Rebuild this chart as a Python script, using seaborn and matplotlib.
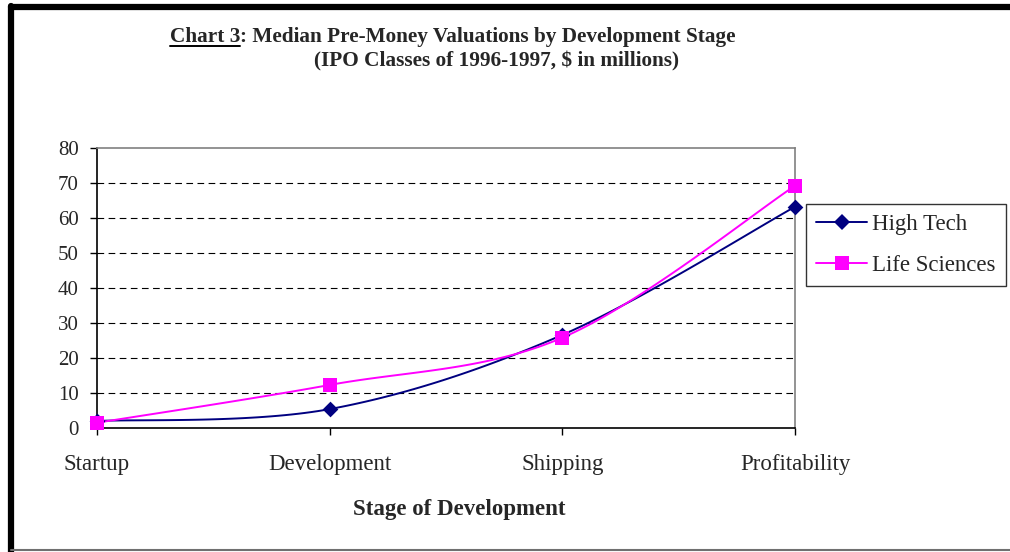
import numpy as np
import pandas as pd
import matplotlib.pyplot as plt
from matplotlib.lines import Line2D
import seaborn as sns

# data
stages = ['Startup', 'Development', 'Shipping', 'Profitability']
high_tech = [2.0, 5.4, 26.6, 63.2]
life_sciences = [1.5, 12.3, 25.8, 69.2]
y_ticks = [0, 10, 20, 30, 40, 50, 60, 70, 80]

sns.set_style('white')
plt.rcParams['font.family'] = ['Liberation Serif', 'DejaVu Serif']

NAVY = '#000080'
MAGENTA = '#FF00FF'


def excel_smooth(xs, ys, n=40):
    # Excel style smoothed line: cubic bezier with control points at 1/6 of neighbours
    pts = np.column_stack([xs, ys]).astype(float)
    out = []
    for i in range(len(pts) - 1):
        p0 = pts[i - 1] if i > 0 else pts[i]
        p1 = pts[i]
        p2 = pts[i + 1]
        p3 = pts[i + 2] if i + 2 < len(pts) else pts[i + 1]
        c1 = p1 + (p2 - p0) / 6
        c2 = p2 - (p3 - p1) / 6
        t = np.linspace(0, 1, n)[:, None]
        seg = ((1 - t) ** 3) * p1 + 3 * ((1 - t) ** 2) * t * c1 + 3 * (1 - t) * t ** 2 * c2 + t ** 3 * p2
        out.append(seg if i == 0 else seg[1:])
    seg = np.vstack(out)
    return seg[:, 0], seg[:, 1]


fig = plt.figure(figsize=(10.1, 5.52), dpi=100)
ax = fig.add_axes([97 / 1010, 1 - 428 / 552, 698 / 1010, 280 / 552])

x_idx = np.arange(len(stages))
series = [('High Tech', high_tech, NAVY, 'D', 8), ('Life Sciences', life_sciences, MAGENTA, 's', 10)]
for name, vals, col, mk, ms in series:
    sx, sy = excel_smooth(x_idx, vals)
    sns.lineplot(x=sx, y=sy, sort=False, estimator=None, color=col, linewidth=1.4, ax=ax, zorder=3)
for name, vals, col, mk, ms in series:
    sns.scatterplot(x=x_idx, y=vals, marker=mk, s=ms ** 2, color=col, edgecolor=col,
                    linewidth=0, ax=ax, zorder=4, clip_on=False)

ax.set_xlim(0, 3)
ax.set_ylim(0, 80)
ax.set_yticks(y_ticks)
ax.set_yticklabels([str(v) for v in y_ticks], fontsize=15)
ax.set_xticks(x_idx)
ax.set_xticklabels(stages, fontsize=16.5)
ax.tick_params(axis='both', direction='out', length=5, width=1, color='black', left=True, bottom=True)
ax.tick_params(axis='x', pad=14)
ax.tick_params(axis='y', pad=8)
for y in y_ticks[1:-1]:
    ax.axhline(y, color='black', linestyle=(0, (6, 4)), linewidth=0.8, zorder=1)
ax.spines['left'].set_color('black')
ax.spines['bottom'].set_color('black')
ax.spines['top'].set_color('#808080')
ax.spines['right'].set_color('#808080')
for s in ax.spines.values():
    s.set_linewidth(1.2)
ax.set_xlabel('Stage of Development', fontsize=16.5, fontweight='bold')
ax.xaxis.set_label_coords((459 - 97) / 698, -(509 - 428) / 280)
ax.xaxis.label.set_va('center')
ax.set_ylabel('')

handles = [Line2D([], [], color=c, marker=m, markersize=ms, linewidth=1.4, markeredgewidth=0)
           for _, _, c, m, ms in series]
leg = fig.legend(handles, [s[0] for s in series], loc='upper left',
                 bbox_to_anchor=(806 / 1010, 1 - 204 / 552), borderaxespad=0,
                 fontsize=16.5, frameon=True, fancybox=False, handlelength=2.2,
                 labelspacing=0.85, borderpad=0.45, handletextpad=0.25)
leg.get_frame().set_edgecolor('black')
leg.get_frame().set_linewidth(1.0)

# title, first part underlined
ty1 = 1 - 37 / 552
t_a = fig.text(170 / 1010, ty1, 'Chart 3', fontsize=15.3, fontweight='bold', va='center', ha='left')
fig.canvas.draw()
bb = t_a.get_window_extent()
fig.text(bb.x1 / 1010, ty1, ': Median Pre-Money Valuations by Development Stage',
         fontsize=15.3, fontweight='bold', va='center', ha='left')
fig.add_artist(Line2D([bb.x0 / 1010, bb.x1 / 1010], [(bb.y0 + 1) / 552] * 2,
                      color='black', linewidth=1.4, transform=fig.transFigure))
fig.text(496 / 1010, 1 - 61 / 552, '(IPO Classes of 1996-1997, $ in millions)',
         fontsize=15.3, fontweight='bold', va='center', ha='center')

# outer chart border
fig.add_artist(Line2D([11 / 1010, 11 / 1010], [0, 1 - 6 / 552], color='black', linewidth=4.5,
                      transform=fig.transFigure))
fig.add_artist(Line2D([11 / 1010, 1], [1 - 6.5 / 552] * 2, color='black', linewidth=4.5,
                      transform=fig.transFigure))
fig.add_artist(Line2D([11 / 1010, 1], [1 - 549.5 / 552] * 2, color='#707070', linewidth=1.5,
                      transform=fig.transFigure))

fig.savefig('out.png', dpi=100)
